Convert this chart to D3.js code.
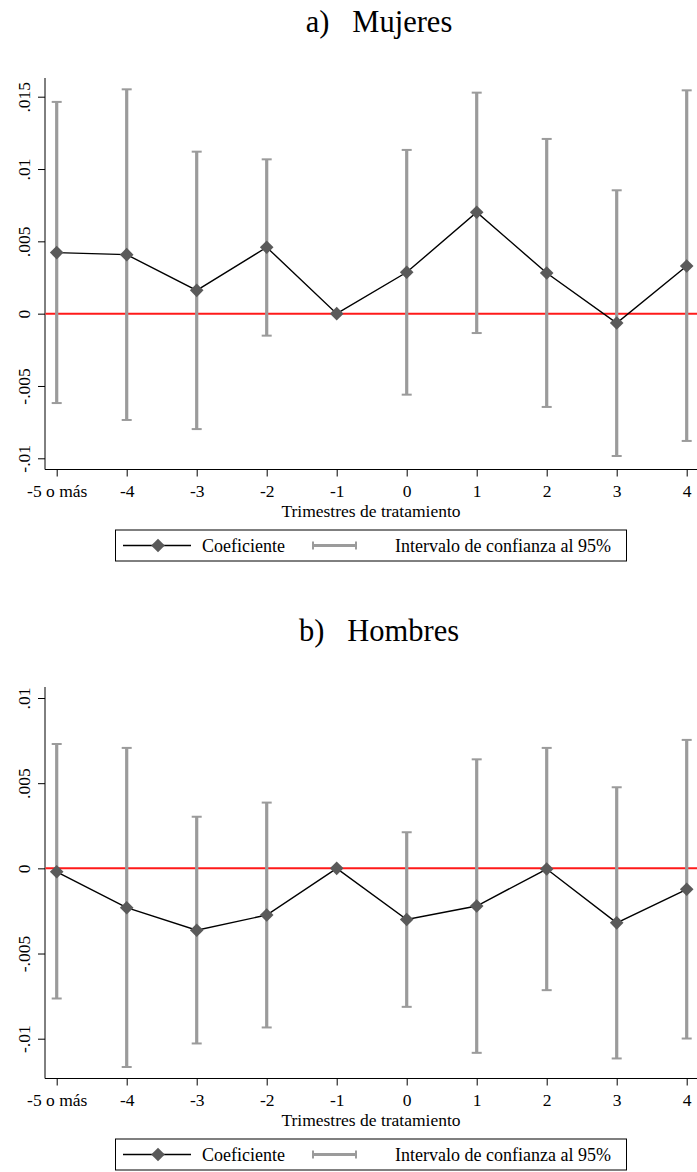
<!DOCTYPE html>
<html>
<head>
<meta charset="utf-8">
<script src="https://cdn.jsdelivr.net/npm/d3@7/dist/d3.min.js"></script>
<style>
  html, body { margin: 0; padding: 0; background: #fff; }
  svg { display: block; }
  text { font-family: "Liberation Serif", "Times New Roman", serif; fill: #000; }
</style>
</head>
<body>
<script>
// Event-study coefficients by quarter relative to treatment
const categories = ["-5 o más", "-4", "-3", "-2", "-1", "0", "1", "2", "3", "4"];

// a) Mujeres
const coefMujeres = [0.00422, 0.00408, 0.00161, 0.00459, 0, 0.00286, 0.00701, 0.00281, -0.00065, 0.0033];
const loMujeres   = [-0.00618, -0.00735, -0.00798, -0.00152, 0, -0.0056, -0.00134, -0.00645, -0.00984, -0.0088];
const hiMujeres   = [0.01464, 0.01551, 0.0112, 0.01067, 0, 0.01132, 0.01528, 0.01208, 0.00853, 0.01544];
const yTicksMujeres = [-0.01, -0.005, 0, 0.005, 0.01, 0.015];

// b) Hombres
const coefHombres = [-0.0002, -0.00231, -0.00363, -0.00274, 0, -0.003, -0.00221, -0.00004, -0.0032, -0.00123];
const loHombres   = [-0.00764, -0.01166, -0.01028, -0.00934, 0, -0.00813, -0.01083, -0.00715, -0.01116, -0.00999];
const hiHombres   = [0.0073, 0.00707, 0.00303, 0.00386, 0, 0.00212, 0.0064, 0.00707, 0.00476, 0.00754];
const yTicksHombres = [-0.01, -0.005, 0, 0.005, 0.01];

const W = 697, H = 1172;
const svg = d3.select("body").append("svg").attr("width", W).attr("height", H);

const CI_COLOR = "#9b9b9b";
const MARK_COLOR = "#5a5a5a";
const FONT = 17.5;

// Stata-style number labels without the leading zero
const fmt = v => v === 0 ? "0" : String(+v.toFixed(3)).replace("0.", ".");

function diamondPath(r) {
  return `M0,${-r}L${r},0L0,${r}L${-r},0Z`;
}

function drawPanel(cfg) {
  const g = svg.append("g");
  const left = 45, right = W, top = cfg.top, bottom = cfg.bottom;

  const x = d3.scaleLinear().domain([0, categories.length - 1]).range([56.7, 686.7]);
  const y = d3.scaleLinear().domain([cfg.ticks[0], cfg.ticks[cfg.ticks.length - 1]]).range(cfg.tickRange);

  // Title
  g.append("text")
    .attr("x", 379).attr("y", cfg.titleY)
    .attr("text-anchor", "middle")
    .attr("font-size", 30.5)
    .style("white-space", "pre")
    .attr("xml:space", "preserve")
    .text(cfg.title);

  // Y axis
  const yAxis = d3.axisLeft(y).tickValues(cfg.ticks).tickSize(7).tickPadding(0).tickFormat(fmt);
  const ya = g.append("g").attr("transform", `translate(${left},0)`).call(yAxis);
  ya.attr("font-family", null);
  ya.select(".domain").attr("d", `M0,${top}V${bottom}`).attr("stroke", "#000");
  ya.selectAll(".tick line").attr("stroke", "#000");
  ya.selectAll(".tick text")
    .attr("font-size", FONT)
    .attr("text-anchor", "middle")
    .attr("x", null).attr("dy", null)
    .attr("transform", "translate(-15,0) rotate(-90)")
    .attr("y", 0);

  // X axis
  const xAxis = d3.axisBottom(x).tickValues(d3.range(categories.length))
    .tickSize(7).tickPadding(0).tickFormat(i => categories[i]);
  const xa = g.append("g").attr("transform", `translate(0,${bottom})`).call(xAxis);
  xa.attr("font-family", null);
  xa.select(".domain").attr("d", `M${left},0H${right}`).attr("stroke", "#000");
  xa.selectAll(".tick line").attr("stroke", "#000");
  xa.selectAll(".tick text")
    .attr("font-size", FONT)
    .attr("dy", null).attr("y", 27.5);

  g.append("text")
    .attr("x", (left + right) / 2).attr("y", bottom + 47.5)
    .attr("text-anchor", "middle").attr("font-size", 17.5)
    .text("Trimestres de tratamiento");

  // Zero reference line
  g.append("line")
    .attr("x1", left + 0.5).attr("x2", right)
    .attr("y1", y(0)).attr("y2", y(0))
    .attr("stroke", "#ff1a1a").attr("stroke-width", 2);

  const idx = d3.range(categories.length);

  // Confidence intervals
  const ci = g.append("g").attr("stroke", CI_COLOR).attr("fill", "none");
  ci.selectAll("line.bar").data(idx).join("line").attr("class", "bar")
    .attr("x1", i => x(i)).attr("x2", i => x(i))
    .attr("y1", i => y(cfg.lo[i])).attr("y2", i => y(cfg.hi[i]))
    .attr("stroke-width", 3.2);
  ci.selectAll("line.caplo").data(idx).join("line").attr("class", "caplo")
    .attr("x1", i => x(i) - 5).attr("x2", i => x(i) + 5)
    .attr("y1", i => y(cfg.lo[i])).attr("y2", i => y(cfg.lo[i]))
    .attr("stroke-width", 2);
  ci.selectAll("line.caphi").data(idx).join("line").attr("class", "caphi")
    .attr("x1", i => x(i) - 5).attr("x2", i => x(i) + 5)
    .attr("y1", i => y(cfg.hi[i])).attr("y2", i => y(cfg.hi[i]))
    .attr("stroke-width", 2);

  // Coefficient line and markers
  g.append("path")
    .datum(idx)
    .attr("fill", "none").attr("stroke", "#000").attr("stroke-width", 1.4)
    .attr("d", d3.line().x(i => x(i)).y(i => y(cfg.coef[i])));
  g.selectAll("path.mk").data(idx).join("path").attr("class", "mk")
    .attr("transform", i => `translate(${x(i)},${y(cfg.coef[i])})`)
    .attr("d", diamondPath(6.8))
    .attr("fill", MARK_COLOR);

  // Legend
  const ly = bottom + 60, lh = 31;
  const lg = g.append("g");
  lg.append("rect")
    .attr("x", 115.5).attr("y", ly + 0.5).attr("width", 511).attr("height", lh)
    .attr("fill", "#fff").attr("stroke", "#000").attr("stroke-width", 1);
  const cy = ly + lh / 2 + 0.5;
  lg.append("line").attr("x1", 123).attr("x2", 191).attr("y1", cy).attr("y2", cy)
    .attr("stroke", "#000").attr("stroke-width", 1.4);
  lg.append("path").attr("transform", `translate(158,${cy})`).attr("d", diamondPath(6.8)).attr("fill", MARK_COLOR);
  lg.append("text").attr("x", 202).attr("y", cy + 6).attr("font-size", 18).text("Coeficiente");
  lg.append("line").attr("x1", 313).attr("x2", 356).attr("y1", cy).attr("y2", cy)
    .attr("stroke", CI_COLOR).attr("stroke-width", 3);
  [313, 356].forEach(cx => lg.append("line")
    .attr("x1", cx).attr("x2", cx).attr("y1", cy - 4).attr("y2", cy + 4)
    .attr("stroke", CI_COLOR).attr("stroke-width", 2));
  lg.append("text").attr("x", 395).attr("y", cy + 6).attr("font-size", 18).text("Intervalo de confianza al 95%");
}

drawPanel({
  title: "a)   Mujeres", titleY: 32,
  top: 78, bottom: 469.5,
  ticks: yTicksMujeres, tickRange: [458.3, 96.7],
  coef: coefMujeres, lo: loMujeres, hi: hiMujeres
});

drawPanel({
  title: "b)   Hombres", titleY: 641,
  top: 687, bottom: 1078.5,
  ticks: yTicksHombres, tickRange: [1038.7, 698],
  coef: coefHombres, lo: loHombres, hi: hiHombres
});
</script>
</body>
</html>
